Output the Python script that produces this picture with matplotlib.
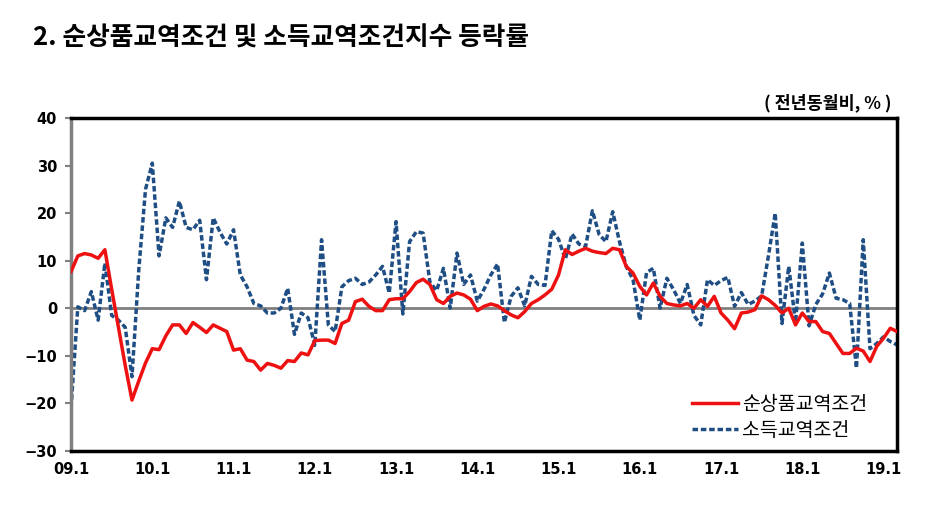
import matplotlib
matplotlib.use("Agg")
import matplotlib.pyplot as plt
import numpy as np

plt.rcParams["font.family"] = ["Noto Sans CJK KR", "DejaVu Sans"]

# monthly, 2009.1 - 2019.3 (year-on-year %)
net_barter = [
    7.7, 11.0, 11.5, 11.2, 10.5, 12.3, 4.0, -4.0, -12.0, -19.3, -15.3, -11.5,
    -8.5, -8.7, -5.8, -3.5, -3.5, -5.3, -3.0, -4.0, -5.1, -3.5, -4.2, -4.9,
    -8.8, -8.5, -10.9, -11.2, -13.0, -11.6, -12.0, -12.6, -11.0, -11.2, -9.4, -9.8,
    -6.8, -6.7, -6.7, -7.4, -3.2, -2.5, 1.4, 1.9, 0.4, -0.5, -0.5, 1.8,
    2.0, 2.0, 3.5, 5.4, 6.1, 5.0, 1.8, 1.0, 2.5, 3.2, 2.8, 1.9,
    -0.5, 0.4, 0.9, 0.5, -0.5, -1.4, -2.0, -0.7, 1.0, 1.8, 2.8, 4.0,
    7.0, 12.3, 11.3, 12.0, 12.6, 12.0, 11.7, 11.5, 12.6, 12.3, 8.8, 7.4,
    4.6, 2.8, 5.3, 2.5, 1.0, 0.7, 0.5, 1.0, 0.0, 1.8, 0.4, 2.5,
    -1.0, -2.5, -4.3, -1.0, -0.8, -0.3, 2.6, 1.8, 0.6, -1.0, 0.0, -3.5,
    -1.0, -2.8, -2.8, -4.9, -5.3, -7.4, -9.5, -9.5, -8.4, -9.0, -11.2, -8.0,
    -6.3, -4.2, -4.9,
]
income = [
    -21.0, 0.3, -0.5, 3.5, -2.5, 9.5, -1.5, -2.5, -4.0, -14.4, 8.0, 25.0,
    30.5, 11.0, 19.0, 17.0, 22.5, 17.0, 16.5, 18.5, 6.0, 19.0, 16.0, 13.5,
    16.5, 7.0, 4.5, 1.0, 0.5, -1.0, -1.0, 0.0, 4.2, -5.5, -1.0, -2.0,
    -7.8, 14.4, -3.5, -4.9, 4.5, 5.8, 6.3, 5.0, 5.5, 7.0, 8.8, 3.2,
    18.2, -1.2, 14.0, 16.1, 15.8, 5.5, 3.7, 8.4, 0.0, 11.6, 5.0, 7.0,
    1.5, 4.0, 7.0, 9.3, -3.0, 2.5, 4.3, 0.5, 6.7, 5.0, 4.8, 16.3,
    14.5, 10.3, 15.6, 13.5, 13.0, 20.5, 15.5, 14.0, 20.3, 14.0, 8.8, 6.0,
    -2.5, 7.5, 8.4, 0.0, 6.3, 3.9, 1.0, 5.0, -1.5, -3.5, 6.0, 4.8,
    5.8, 6.5, 0.4, 3.3, 0.8, 1.5, 2.6, 11.0, 20.0, -3.2, 8.8, -3.0,
    13.7, -3.7, 0.8, 3.0, 7.4, 2.1, 1.8, 1.0, -12.6, 14.4, -8.5, -7.4,
    -6.0, -7.0, -7.7,
]
year_labels = ["09.1", "10.1", "11.1", "12.1", "13.1", "14.1",
               "15.1", "16.1", "17.1", "18.1", "19.1"]

x = np.arange(len(net_barter))

fig = plt.figure(figsize=(9.51, 5.05), dpi=100)
ax = fig.add_axes([0.0747, 0.107, 0.8686, 0.6594])

ax.axhline(0, color="#808080", lw=2.0, zorder=1)
ax.plot(x, net_barter, color="#ee1111", lw=2.5, label="순상품교역조건", zorder=3)
ax.plot(x, income, color="#1f4e85", lw=2.5, ls=(0, (1.6, 0.8)),
        label="소득교역조건", zorder=2)

ax.set_xlim(0, len(x) - 1)
ax.set_ylim(-30, 40)
ax.set_yticks(np.arange(-30, 41, 10))
ax.set_xticks(np.arange(0, 121, 12))
ax.set_xticklabels(year_labels)

for lab in ax.get_yticklabels() + ax.get_xticklabels():
    lab.set_fontweight("bold")
    lab.set_fontsize(10.5)
    lab.set_family(["DejaVu Sans"])
ax.tick_params(axis="y", direction="out", length=4, width=1.5, color="#808080", pad=6)
ax.tick_params(axis="x", length=0, pad=8)

for side in ["top", "right", "bottom"]:
    ax.spines[side].set_linewidth(2.5)
    ax.spines[side].set_color("black")
ax.spines["left"].set_linewidth(2.5)
ax.spines["left"].set_color("#808080")

leg = ax.legend(loc="lower right", bbox_to_anchor=(0.985, -0.022), frameon=False,
                fontsize=14, handlelength=2.4, handletextpad=0.2,
                labelspacing=0.25)

fig.text(0.035, 0.925, "2. 순상품교역조건 및 소득교역조건지수 등락률",
         fontsize=18.5, fontweight="bold", va="center", ha="left")
fig.text(0.937, 0.797, "( 전년동월비, % )", fontsize=12.5, fontweight="bold",
         va="center", ha="right")

fig.savefig("out.png", dpi=100)
